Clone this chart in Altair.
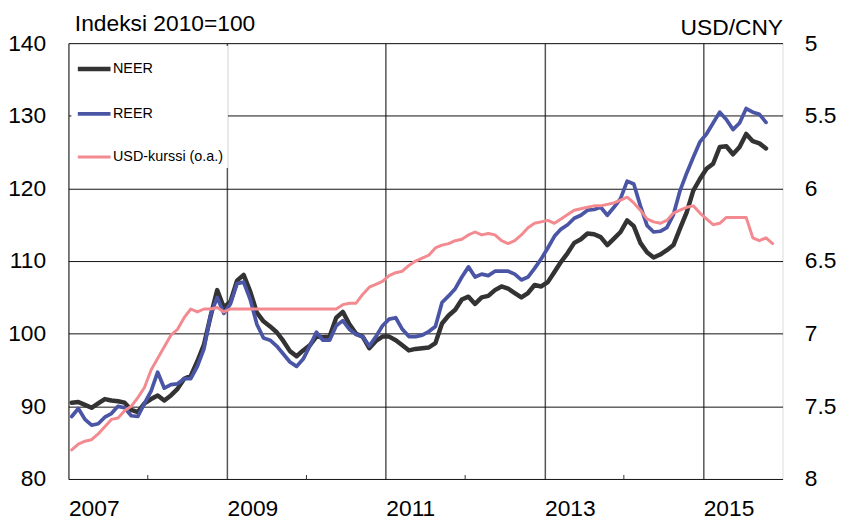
import altair as alt
import pandas as pd

# Monthly data, Jan 2007 ->
neer = [90.5, 90.6, 90.2, 89.8, 90.4, 91.0, 90.8, 90.7, 90.5, 89.5, 89.2, 90.4,
        91.0, 91.5, 90.8, 91.5, 92.4, 93.8, 94.2, 96.2, 98.5, 102.4, 106.0, 103.6,
        104.4, 107.3, 108.1, 105.8, 102.9, 101.7, 101.0, 100.2, 99.0, 97.6, 96.9, 97.7,
        98.4, 99.6, 99.5, 99.6, 102.2, 103.0, 101.3, 100.0, 99.6, 98.0, 99.0, 99.6,
        99.6, 99.1, 98.4, 97.7, 97.9, 98.0, 98.1, 98.7, 101.4, 102.5, 103.3, 104.7,
        105.1, 104.1, 105.0, 105.2, 106.0, 106.5, 106.2, 105.6, 105.0, 105.6, 106.7, 106.5,
        107.1, 108.5, 109.9, 111.1, 112.5, 113.0, 113.8, 113.7, 113.3, 112.2, 113.1, 114.0,
        115.6, 114.8, 112.5, 111.2, 110.5, 110.9, 111.5, 112.2, 114.5, 116.7, 119.7, 121.3,
        122.7, 123.4, 125.7, 125.8, 124.7, 125.7, 127.5, 126.5, 126.2, 125.5]
reer = [88.6, 89.7, 88.2, 87.4, 87.6, 88.5, 89.0, 90.0, 89.8, 88.7, 88.6, 90.4,
        92.1, 94.7, 92.5, 93.0, 93.1, 93.8, 93.8, 95.5, 97.9, 102.6, 105.0, 102.8,
        104.1, 106.9, 107.1, 104.7, 101.3, 99.4, 99.1, 98.3, 97.2, 96.1, 95.5, 96.5,
        98.3, 100.2, 99.1, 99.1, 101.1, 101.8, 100.6, 99.9, 99.6, 98.3, 99.6, 101.1,
        102.0, 102.2, 100.6, 99.6, 99.6, 99.8, 100.3, 101.0, 104.3, 105.2, 106.2, 107.8,
        109.2, 107.8, 108.2, 108.0, 108.6, 108.6, 108.6, 108.2, 107.4, 107.8, 109.0, 110.3,
        111.8, 113.4, 114.4, 115.0, 115.9, 116.3, 117.0, 117.1, 117.4, 116.3, 117.4, 118.6,
        121.0, 120.6, 117.6, 114.9, 114.0, 114.1, 114.6, 116.4, 119.7, 122.1, 124.3, 126.4,
        127.5, 129.0, 130.5, 129.5, 128.1, 129.0, 131.0, 130.5, 130.2, 129.1]
usd = [7.80, 7.76, 7.74, 7.73, 7.69, 7.64, 7.59, 7.58, 7.53, 7.50, 7.44, 7.37,
       7.25, 7.17, 7.09, 7.01, 6.97, 6.89, 6.83, 6.85, 6.83, 6.83, 6.82, 6.85,
       6.83, 6.83, 6.83, 6.83, 6.83, 6.83, 6.83, 6.83, 6.83, 6.83, 6.83, 6.83,
       6.83, 6.83, 6.83, 6.83, 6.83, 6.80, 6.79, 6.79, 6.73, 6.68, 6.66, 6.64,
       6.60, 6.58, 6.57, 6.53, 6.50, 6.48, 6.46, 6.41, 6.39, 6.38, 6.36, 6.35,
       6.32, 6.30, 6.32, 6.31, 6.32, 6.36, 6.38, 6.36, 6.32, 6.27, 6.24, 6.23,
       6.22, 6.24, 6.21, 6.18, 6.15, 6.14, 6.13, 6.12, 6.12, 6.11, 6.10, 6.08,
       6.06, 6.10, 6.15, 6.21, 6.23, 6.24, 6.22, 6.17, 6.15, 6.13, 6.12, 6.17,
       6.21, 6.25, 6.24, 6.20, 6.20, 6.20, 6.20, 6.34, 6.36, 6.34, 6.38]

series_names = ["NEER", "REER", "USD-kurssi (o.a.)"]
series_colors = ["#333333", "#4a55a6", "#f28a90"]
series_widths = [4.5, 3.0, 3.0]
year_labels = [2007, 2009, 2011, 2013, 2015]
minor_years = [2008, 2010, 2012, 2014]
left_ticks = [80, 90, 100, 110, 120, 130, 140]
right_ticks = [5, 5.5, 6, 6.5, 7, 7.5, 8]

FONT = "Liberation Sans"


def t_of(i):
    return 2007 + (i + 0.5) / 12


rows = []
for name, vals in (("NEER", neer), ("REER", reer)):
    for i, v in enumerate(vals):
        rows.append({"t": t_of(i), "series": name, "value": v})
df_idx = pd.DataFrame(rows)
df_usd = pd.DataFrame({"t": [t_of(i) for i in range(len(usd))],
                       "series": "USD-kurssi (o.a.)", "value": usd})
df_minor = pd.DataFrame({"t": minor_years})

xscale = alt.Scale(domain=[2007, 2016], nice=False, zero=False)
xaxis = alt.Axis(values=year_labels, format="d", labelAlign="left", labelFlush=False,
                 labelFontSize=23, labelFont=FONT, labelColor="black", labelPadding=19,
                 ticks=False, tickSize=0, domain=False, grid=True, gridColor="#555555",
                 gridWidth=1.5, title=None)

color = alt.Color("series:N",
                  scale=alt.Scale(domain=series_names, range=series_colors),
                  legend=alt.Legend(title=None, orient="none", legendX=3, legendY=3,
                                    direction="vertical", symbolType="stroke",
                                    symbolSize=1089, symbolStrokeWidth=3.5,
                                    labelFontSize=14.5, labelFont=FONT, labelColor="black",
                                    labelOffset=0, rowPadding=18, padding=4,
                                    fillColor="white"))
swidth = alt.StrokeWidth("series:N",
                         scale=alt.Scale(domain=series_names, range=series_widths),
                         legend=None)

idx_lines = alt.Chart(df_idx).mark_line(strokeJoin="round", strokeCap="round").encode(
    x=alt.X("t:Q", scale=xscale, axis=xaxis),
    y=alt.Y("value:Q", scale=alt.Scale(domain=[80, 140], nice=False, zero=False),
            axis=alt.Axis(values=left_ticks, labelFontSize=23, labelFont=FONT,
                          labelColor="black", labelPadding=23, ticks=False, tickSize=0,
                          domain=False, grid=True, gridColor="#111111", gridWidth=1,
                          title="Indeksi 2010=100", titleAngle=0, titleAlign="left",
                          titleBaseline="alphabetic", titleX=6, titleY=-13,
                          titleFontSize=23, titleFont=FONT, titleFontWeight="normal",
                          titleColor="black")),
    color=color,
    strokeWidth=swidth,
    detail="series:N",
)

usd_line = alt.Chart(df_usd).mark_line(strokeJoin="round", strokeCap="round").encode(
    x=alt.X("t:Q", scale=xscale, axis=xaxis),
    y=alt.Y("value:Q", scale=alt.Scale(domain=[5, 8], reverse=True, nice=False, zero=False),
            axis=alt.Axis(orient="right", values=right_ticks, format="~g",
                          labelFontSize=23, labelFont=FONT, labelColor="black",
                          labelAlign="left", labelPadding=22, ticks=False, tickSize=0,
                          domain=False, grid=False,
                          title="USD/CNY", titleAngle=0, titleAlign="right",
                          titleBaseline="alphabetic", titleX=0, titleY=-9,
                          titleFontSize=23, titleFont=FONT, titleFontWeight="normal",
                          titleColor="black")),
    color=color,
    strokeWidth=swidth,
)

minor = alt.Chart(df_minor).mark_rule(color="#333333", strokeWidth=1).encode(
    x=alt.X("t:Q", scale=xscale, axis=xaxis),
    y=alt.value(440),
    y2=alt.value(436),
)

chart = alt.layer(idx_lines, usd_line, minor).resolve_scale(y="independent").properties(
    width=721, height=440,
    autosize=alt.AutoSizeParams(type="none"),
    padding={"left": 61, "top": 33, "right": 58, "bottom": 45},
).configure_view(stroke="#444444", strokeWidth=1).configure(background="white")

chart.save("out.html", embed_options={"renderer": "svg", "actions": False})
